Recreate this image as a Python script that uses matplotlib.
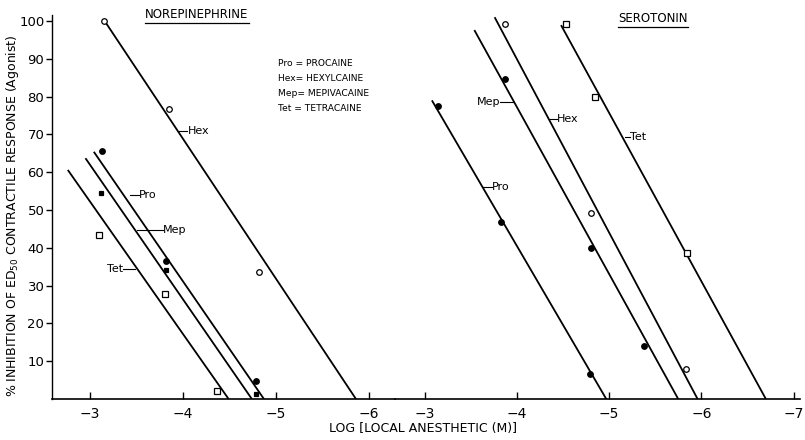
import matplotlib
matplotlib.use("Agg")
import matplotlib.pyplot as plt
from matplotlib.lines import Line2D

plt.rcParams['font.family'] = ['DejaVu Sans']

# ---------------- data ----------------
# Norepinephrine panel
ne_hex_x = [-3.15, -3.85, -4.82]
ne_hex_y = [100.0, 76.7, 33.5]
ne_pro_x = [-3.13, -3.82, -4.79]
ne_pro_y = [65.7, 36.5, 4.7]
ne_mep_x = [-3.12, -3.82, -4.78]
ne_mep_y = [54.4, 34.2, 1.2]
ne_tet_x = [-3.10, -3.81, -4.37]
ne_tet_y = [43.4, 27.8, 2.2]
# fitted regression lines: (x_top, y_top, x_zero)
ne_lines = {
    "Hex": (-3.17, 99.5, -5.86),
    "Pro": (-3.04, 65.4, -4.87),
    "Mep": (-2.95, 63.7, -4.74),
    "Tet": (-2.76, 60.6, -4.49),
}

# Serotonin panel
se_pro_x = [-3.15, -3.83, -4.79]
se_pro_y = [77.5, 46.7, 6.6]
se_mep_x = [-3.87, -4.80, -5.38]
se_mep_y = [84.6, 39.9, 14.0]
se_hex_x = [-3.87, -4.80, -5.83]
se_hex_y = [99.2, 49.1, 7.9]
se_tet_x = [-4.53, -4.85, -5.84]
se_tet_y = [99.1, 80.0, 38.7]
se_lines = {
    "Pro": (-3.08, 79.0, -4.97),
    "Mep": (-3.54, 97.6, -5.75),
    "Hex": (-3.76, 101.0, -5.96),
    "Tet": (-4.48, 98.9, -6.70),
}

x_ticks_left = [-3, -4, -5, -6]
x_ticks_right = [-3, -4, -5, -6, -7]
y_ticks = [10, 20, 30, 40, 50, 60, 70, 80, 90, 100]

legend_lines = ["Pro = PROCAINE", "Hex= HEXYLCAINE", "Mep= MEPIVACAINE", "Tet = TETRACAINE"]

# ---------------- figure ----------------
W, H = 805, 440
fig = plt.figure(figsize=(W / 100, H / 100), dpi=100)
fig.patch.set_facecolor("white")

ytop = 101.5
ax1 = fig.add_axes([52 / W, 41 / H, (395 - 52) / W, ytop * 3.78 / H])
ax2 = fig.add_axes([395 / W, 41 / H, (800 - 395) / W, ytop * 3.78 / H])
ax1.set_xlim(-2.59, -6.28)
ax2.set_xlim(-2.68, -7.07)
for ax in (ax1, ax2):
    ax.set_ylim(0, ytop)
    ax.patch.set_alpha(0)
    for s in ("top", "right"):
        ax.spines[s].set_visible(False)
    ax.spines["bottom"].set_linewidth(1.2)
    ax.tick_params(axis="x", direction="in", length=5, width=1, labelsize=10, pad=6)

ax2.spines["left"].set_visible(False)
ax2.set_yticks([])
ax1.set_xticks(x_ticks_left)
ax2.set_xticks(x_ticks_right)
ax1.set_yticks(y_ticks)
ax1.tick_params(axis="y", direction="out", length=4, width=1, labelsize=9.5, pad=1.5)
ax1.spines["left"].set_linewidth(1.0)

lk = dict(color="black", lw=1.3, solid_capstyle="butt")
mk = dict(ls="none", color="black", ms=4, mew=0.9)

def draw_line(ax, p):
    xt, yt, x0 = p
    ax.plot([xt, x0], [yt, 0], **lk)

for p in ne_lines.values():
    draw_line(ax1, p)
for p in se_lines.values():
    draw_line(ax2, p)

# markers
ax1.plot(ne_hex_x, ne_hex_y, marker="o", mfc="white", **mk)
ax1.plot(ne_pro_x, ne_pro_y, marker="o", mfc="black", **mk)
ax1.plot(ne_mep_x, ne_mep_y, marker="s", mfc="black", **{**mk, "ms": 3.5})
ax1.plot(ne_tet_x, ne_tet_y, marker="s", mfc="white", **{**mk, "ms": 3.8})

ax2.plot(se_pro_x, se_pro_y, marker="o", mfc="black", **mk)
ax2.plot(se_mep_x, se_mep_y, marker="o", mfc="black", **mk)
ax2.plot(se_hex_x, se_hex_y, marker="o", mfc="white", **mk)
ax2.plot(se_tet_x, se_tet_y, marker="s", mfc="white", **{**mk, "ms": 3.8})

# line labels with leader lines (positions given in picture pixels)
def px2x(ax, px):
    return ax.transData.inverted().transform((px, 0))[0]

def py2y(py):
    return (399 - py) / 3.78

lab_kw = dict(fontsize=8, va="center")
def leader(ax, x0, x1, py, text, tx, ha="left"):
    y = py2y(py)
    ax.plot([px2x(ax, x0), px2x(ax, x1)], [y, y], color="black", lw=0.8)
    ax.text(px2x(ax, tx), y, text, ha=ha, **lab_kw)

fig.canvas.draw()
leader(ax1, 178, 187, 131.5, "Hex", 188)
leader(ax1, 130, 139, 195, "Pro", 139)
leader(ax1, 137, 163, 230, "Mep", 163)
leader(ax1, 123, 135, 269, "Tet", 123, ha="right")

leader(ax2, 500, 513, 102, "Mep", 500, ha="right")
leader(ax2, 550, 557, 119, "Hex", 557)
leader(ax2, 625, 630, 137, "Tet", 630)
leader(ax2, 483, 492, 187, "Pro", 492)

# legend text block
for i, t in enumerate(legend_lines):
    fig.text(278 / W, 1 - (63 + 15.3 * i) / H, t, fontsize=6.6, va="center", ha="left")

# titles
t1 = fig.text(197 / W, 1 - 15 / H, "NOREPINEPHRINE", fontsize=8.5, ha="center", va="center")
t2 = fig.text(653 / W, 1 - 19 / H, "SEROTONIN", fontsize=8.5, ha="center", va="center")

# axis labels
fig.text(13 / W, 1 - 216 / H, r"% INHIBITION OF ED$_{50}$ CONTRACTILE RESPONSE (Agonist)",
         rotation=90, fontsize=9, ha="center", va="center")
fig.text(423 / W, 1 - 428 / H, "LOG [LOCAL ANESTHETIC (M)]", fontsize=9, ha="center", va="center")

# underline titles
fig.canvas.draw()
r = fig.canvas.get_renderer()
for t in (t1, t2):
    bb = t.get_window_extent(r)
    fig.add_artist(Line2D([bb.x0 / W, bb.x1 / W], [(bb.y0 - 1.5) / H, (bb.y0 - 1.5) / H],
                          transform=fig.transFigure, color="black", lw=0.9))

fig.savefig("out.png", dpi=100, facecolor="white")
